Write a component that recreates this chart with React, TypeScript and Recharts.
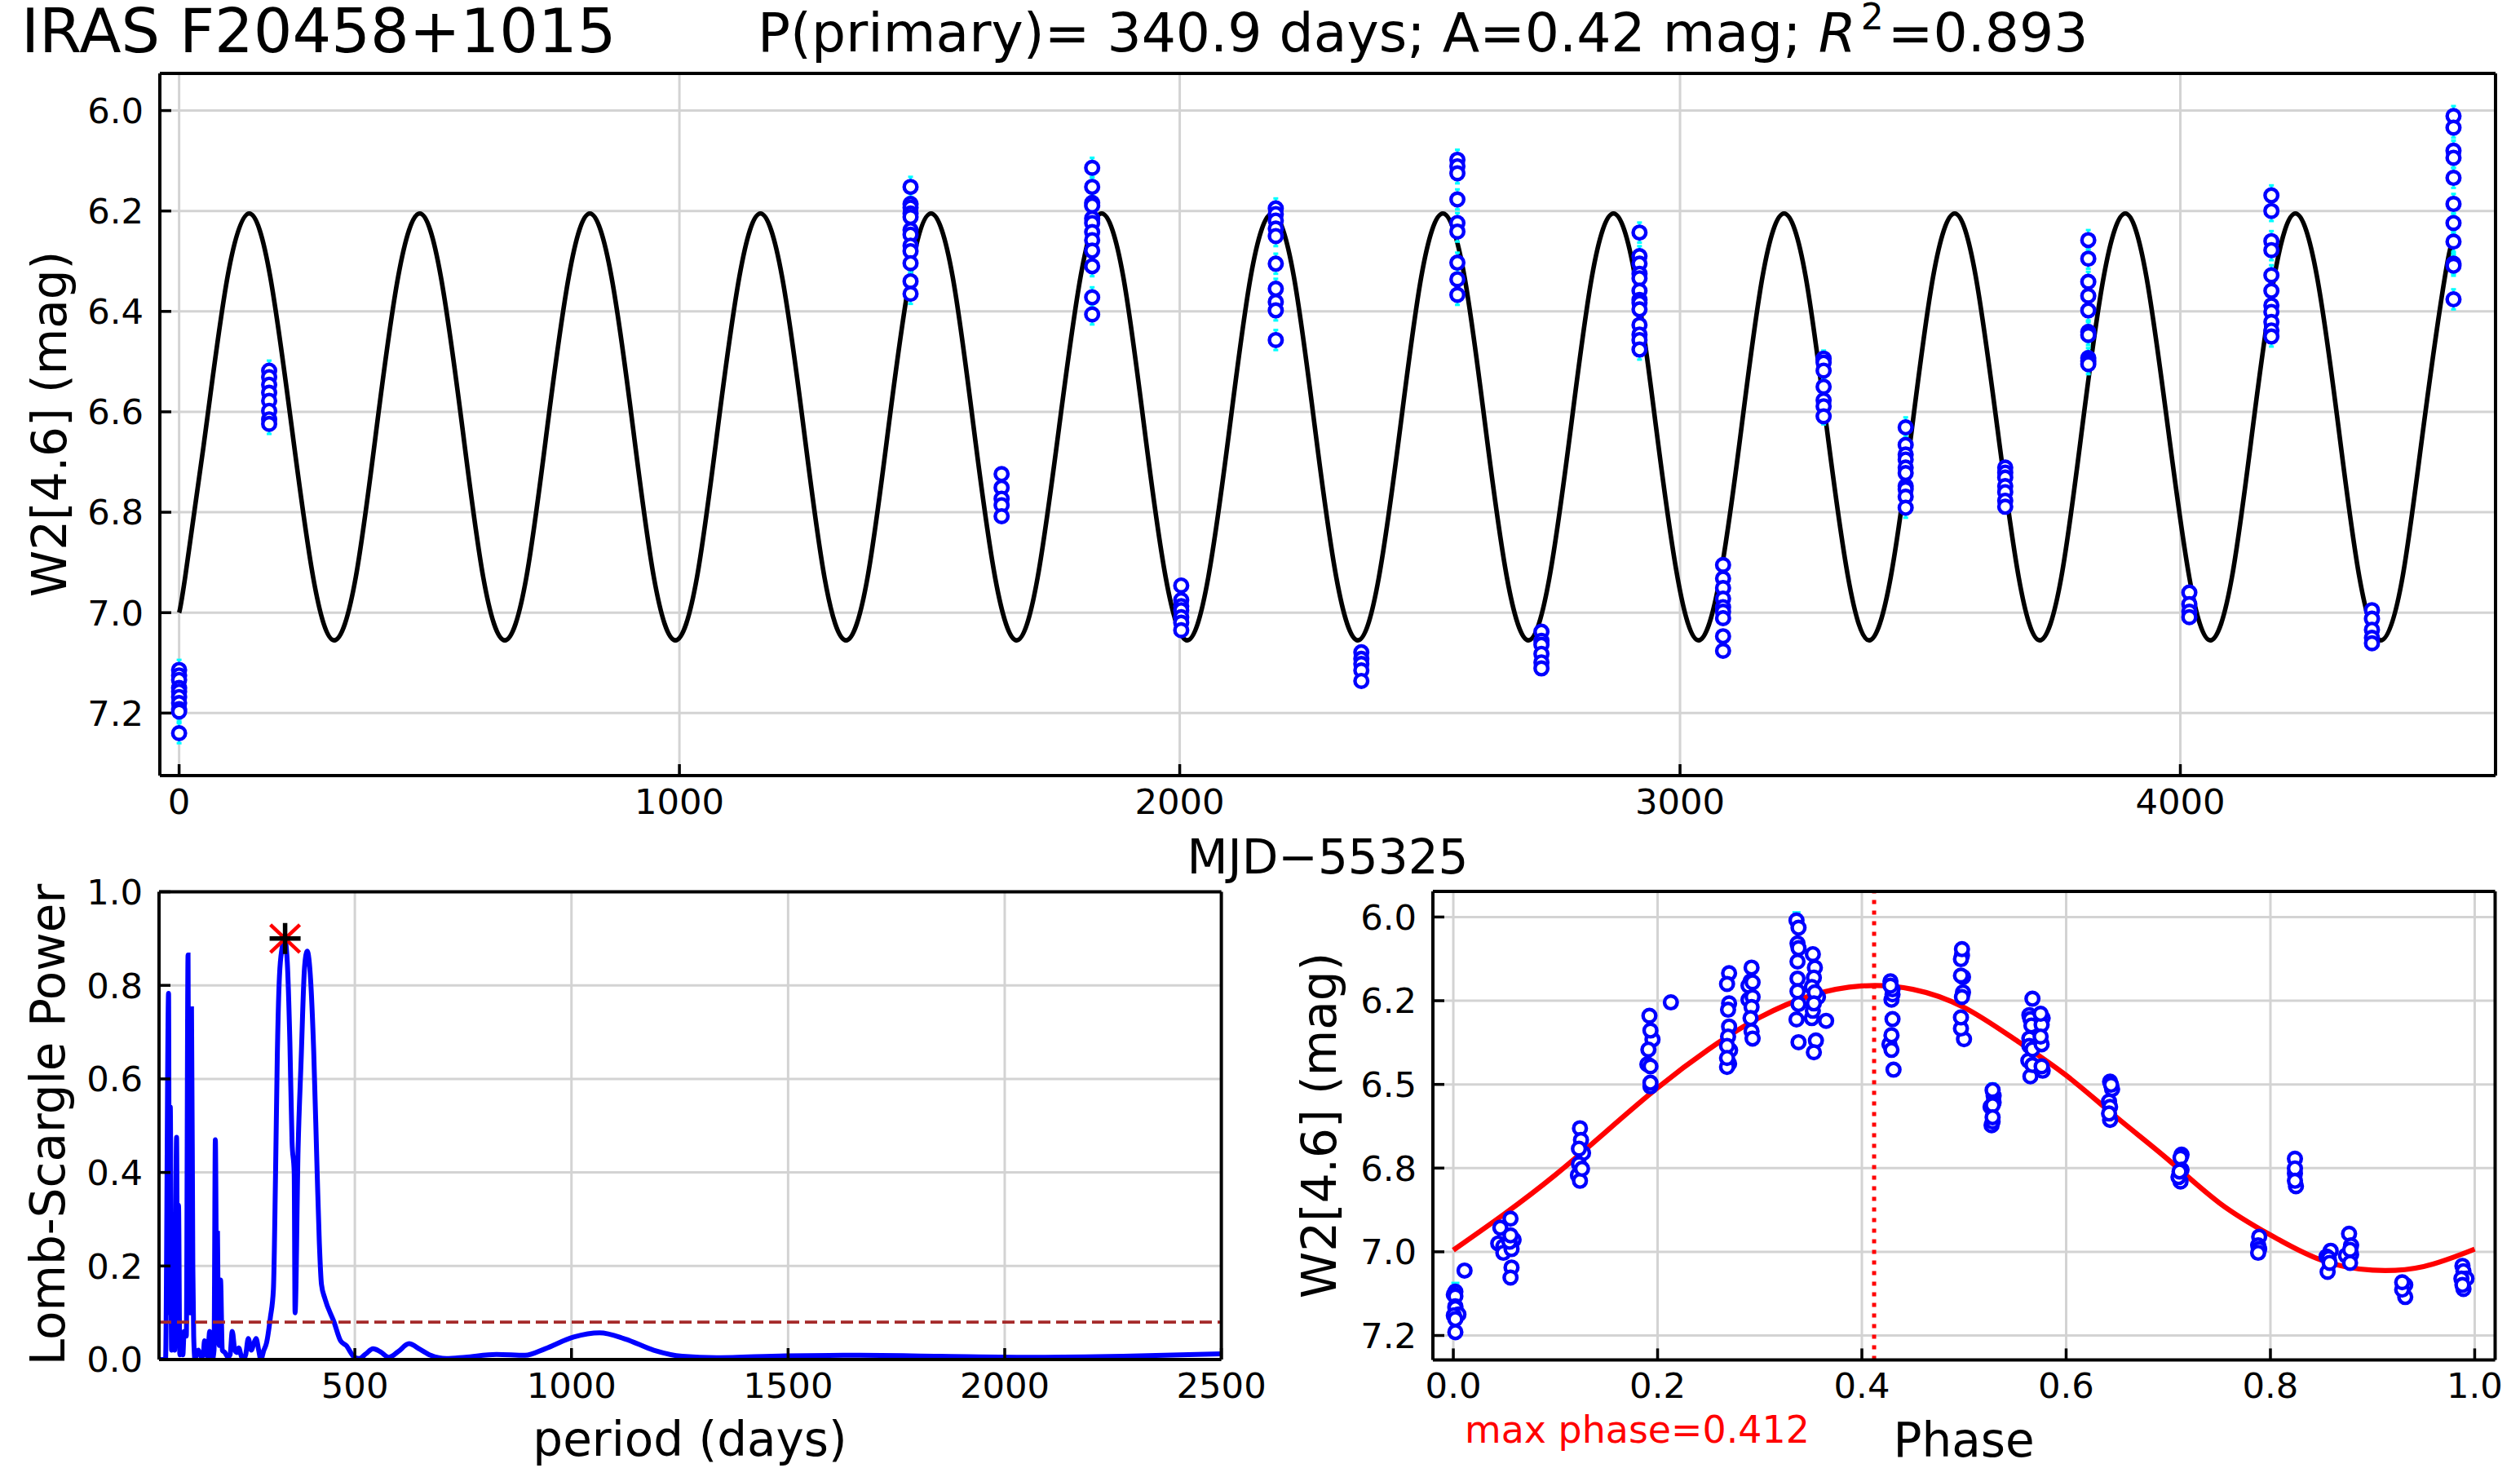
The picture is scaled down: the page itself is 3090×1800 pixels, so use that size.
import React from 'react';
import { ComposedChart, Line, Scatter, XAxis, YAxis, CartesianGrid, ErrorBar, ReferenceLine } from 'recharts';

const FONT = "'DejaVu Sans', sans-serif";
const W = 3090;
const H = 1800;
const GRID = '#d3d3d3';

// ---- top panel: light curve ----
const epochTimes = [0, 180, 1462, 1644, 1825, 2003, 2192, 2363, 2555, 2723, 2919, 3086, 3287, 3451, 3650, 3816, 4018, 4182, 4383, 4546];
const epochMags = [
  [7.114, 7.125, 7.134, 7.15, 7.157, 7.168, 7.18, 7.192, 7.197, 7.24],
  [6.518, 6.531, 6.546, 6.562, 6.578, 6.598, 6.615, 6.624],
  [6.152, 6.186, 6.193, 6.205, 6.212, 6.238, 6.247, 6.269, 6.28, 6.304, 6.34, 6.365],
  [6.724, 6.751, 6.773, 6.786, 6.808],
  [6.114, 6.152, 6.184, 6.189, 6.215, 6.224, 6.242, 6.258, 6.279, 6.31, 6.372, 6.406],
  [6.946, 6.975, 6.987, 6.995, 7.009, 7.02, 7.035],
  [6.195, 6.206, 6.219, 6.235, 6.25, 6.305, 6.355, 6.381, 6.398, 6.457],
  [7.079, 7.092, 7.102, 7.115, 7.136],
  [6.098, 6.111, 6.125, 6.177, 6.224, 6.241, 6.303, 6.336, 6.367],
  [7.038, 7.056, 7.064, 7.082, 7.099, 7.111],
  [6.243, 6.29, 6.305, 6.325, 6.334, 6.359, 6.377, 6.383, 6.396, 6.427, 6.446, 6.457, 6.476],
  [6.905, 6.932, 6.951, 6.972, 6.989, 6.998, 7.011, 7.047, 7.076],
  [6.494, 6.502, 6.518, 6.55, 6.577, 6.589, 6.609],
  [6.631, 6.666, 6.685, 6.695, 6.711, 6.722, 6.748, 6.754, 6.769, 6.791],
  [6.711, 6.721, 6.731, 6.748, 6.76, 6.777, 6.789],
  [6.258, 6.295, 6.341, 6.369, 6.398, 6.441, 6.447, 6.493, 6.499, 6.505],
  [6.96, 6.983, 6.998, 7.009],
  [6.169, 6.2, 6.26, 6.278, 6.328, 6.359, 6.388, 6.401, 6.421, 6.438, 6.45],
  [6.995, 7.012, 7.034, 7.05, 7.061],
  [6.011, 6.034, 6.08, 6.094, 6.134, 6.186, 6.224, 6.261, 6.305, 6.309, 6.376],
];
const epochErrors = [0.02, 0.02, 0.02, 0.012, 0.02, 0.012, 0.02, 0.008, 0.02, 0.008, 0.02, 0.012, 0.016, 0.02, 0.012, 0.02, 0.012, 0.02, 0.01, 0.02];

const curveTimes = [
  0, 12, 54, 97,
  140, 182, 225, 268, 310, 353, 395, 438,
  481, 523, 566, 608, 651, 694, 736, 779,
  821, 864, 907, 949, 992, 1035, 1077, 1120,
  1162, 1205, 1248, 1290, 1333, 1376, 1418, 1461,
  1503, 1546, 1588, 1631, 1674, 1716, 1759, 1802,
  1844, 1887, 1929, 1972, 2015, 2057, 2100, 2142,
  2185, 2228, 2270, 2313, 2356, 2398, 2441, 2483,
  2526, 2569, 2611, 2654, 2697, 2739, 2782, 2824,
  2867, 2910, 2952, 2995, 3037, 3080, 3123, 3165,
  3208, 3251, 3293, 3336, 3378, 3421, 3464, 3506,
  3549, 3591, 3634, 3677, 3719, 3762, 3804, 3847,
  3890, 3932, 3975, 4018, 4060, 4103, 4145, 4188,
  4230, 4273, 4316, 4358, 4401, 4444, 4486, 4529,
  4546,
];
const curveMags = [
  7.0, 6.93, 6.63, 6.33,
  6.205, 6.33, 6.63, 6.93, 7.055, 6.93, 6.63, 6.33,
  6.205, 6.33, 6.63, 6.93, 7.055, 6.93, 6.63, 6.33,
  6.205, 6.33, 6.63, 6.93, 7.055, 6.93, 6.63, 6.33,
  6.205, 6.33, 6.63, 6.93, 7.055, 6.93, 6.63, 6.33,
  6.205, 6.33, 6.63, 6.93, 7.055, 6.93, 6.63, 6.33,
  6.205, 6.33, 6.63, 6.93, 7.055, 6.93, 6.63, 6.33,
  6.205, 6.33, 6.63, 6.93, 7.055, 6.93, 6.63, 6.33,
  6.205, 6.33, 6.63, 6.93, 7.055, 6.93, 6.63, 6.33,
  6.205, 6.33, 6.63, 6.93, 7.055, 6.93, 6.63, 6.33,
  6.205, 6.33, 6.63, 6.93, 7.055, 6.93, 6.63, 6.33,
  6.205, 6.33, 6.63, 6.93, 7.055, 6.93, 6.63, 6.33,
  6.205, 6.33, 6.63, 6.93, 7.055, 6.93, 6.63, 6.33,
  6.205, 6.33, 6.63, 6.93, 7.055, 6.93, 6.63, 6.33,
  6.26,
];
const topXTicks = [0, 1000, 2000, 3000, 4000];
const topYTicks = [6.0, 6.2, 6.4, 6.6, 6.8, 7.0, 7.2];

// ---- bottom left: periodogram ----
const periodogramPoints = [
  [50, 0], [63, 0.0], [70, 0.783], [72, 0.1], [74, 0.54], [77, 0.02], [81, 0.16], [84, 0.02], [88.5, 0.475], [91, 0.03], [93, 0.33], [96, 0.01],
  [99, 0.05], [103, 0.01], [106, 0.06], [111, 0.05], [115, 0.865], [117, 0.3], [119, 0.1], [121, 0.3], [123, 0.75], [126, 0.2], [128, 0.05], [131, 0.0],
  [135, 0.015], [139, 0.02], [142, 0.012], [146, 0.005], [150, 0.01], [153, 0.04], [157, 0.03], [160, 0.005], [165, 0.06], [168, 0.04], [171, 0.0],
  [175, 0.02], [178, 0.47], [181, 0.15], [183, 0.27], [185, 0.05], [187, 0.03], [190, 0.17], [194, 0.02], [200, 0.015], [207, 0.005], [212, 0.01],
  [217, 0.06], [223, 0.02], [228, 0.015], [232, 0.025], [237, 0.01], [242, 0.0], [248, 0.01], [254, 0.045], [261, 0.02], [267, 0.035], [272, 0.045],
  [278, 0.02], [283, 0.0], [290, 0.02], [296, 0.035], [305, 0.09], [312, 0.15], [317, 0.4], [321, 0.65], [326, 0.82], [332, 0.88], [338, 0.9],
  [344, 0.85], [350, 0.68], [355, 0.466], [360, 0.4], [362, 0.1], [369, 0.45], [376, 0.64], [384, 0.84], [390, 0.873], [398, 0.81], [405, 0.66],
  [413, 0.4], [418, 0.25], [423, 0.16], [431, 0.13], [452, 0.08], [467, 0.04], [480, 0.03], [499, 0.005], [510, 0.002], [525, 0.012], [542, 0.023],
  [560, 0.016], [578, 0.005], [600, 0.017], [625, 0.034], [650, 0.022], [675, 0.009], [711, 0.002], [755, 0.005], [827, 0.011], [893, 0.009],
  [939, 0.023], [1005, 0.048], [1065, 0.057], [1124, 0.044], [1190, 0.02], [1256, 0.007], [1335, 0.004], [1494, 0.008], [1666, 0.009], [1850, 0.007],
  [2075, 0.005], [2273, 0.007], [2500, 0.012],
];
const significanceLevel = 0.08;
const bestPeriodPoint = [{ x: 339, y: 0.9 }];
const periodXTicks = [500, 1000, 1500, 2000, 2500];
const powerTicks = [0, 0.2, 0.4, 0.6, 0.8, 1.0];

// ---- bottom right: phase folded ----
const phasePoints = [
  [0.002, 7.119, 0.026], [0.0005, 7.128], [0.002, 7.133], [0.002, 7.163], [0.002, 7.168], [0.005, 7.187], [0.0005, 7.19], [0.002, 7.201], [0.002, 7.24], [0.011, 7.056],
  [0.046, 6.928], [0.056, 6.901], [0.044, 6.975], [0.049, 6.984], [0.049, 7.003], [0.059, 6.964], [0.057, 6.992], [0.055, 6.97], [0.056, 6.951], [0.057, 7.047], [0.056, 7.077],
  [0.124, 6.631], [0.125, 6.666], [0.127, 6.705], [0.123, 6.692], [0.123, 6.738], [0.122, 6.771], [0.124, 6.788], [0.126, 6.752],
  [0.192, 6.295], [0.195, 6.366], [0.193, 6.339], [0.191, 6.396], [0.19, 6.44], [0.193, 6.446], [0.193, 6.506], [0.193, 6.495], [0.213, 6.255],
  [0.27, 6.168], [0.268, 6.2], [0.27, 6.258], [0.269, 6.277], [0.27, 6.327], [0.269, 6.357], [0.271, 6.398], [0.268, 6.385], [0.27, 6.438], [0.268, 6.448], [0.268, 6.421],
  [0.292, 6.151], [0.291, 6.192], [0.289, 6.205], [0.293, 6.195], [0.289, 6.247], [0.293, 6.239], [0.292, 6.269], [0.291, 6.302], [0.292, 6.341], [0.293, 6.363],
  [0.336, 6.01, 0.024], [0.338, 6.032], [0.337, 6.079], [0.338, 6.093], [0.337, 6.133], [0.337, 6.184], [0.337, 6.222], [0.338, 6.26], [0.336, 6.306], [0.338, 6.374],
  [0.352, 6.111], [0.354, 6.151], [0.353, 6.181], [0.351, 6.209], [0.357, 6.239], [0.354, 6.225], [0.351, 6.302], [0.352, 6.28], [0.353, 6.258], [0.365, 6.31], [0.355, 6.369], [0.353, 6.404],
  [0.428, 6.192], [0.429, 6.247], [0.43, 6.231], [0.43, 6.216], [0.428, 6.205], [0.43, 6.305], [0.427, 6.38], [0.429, 6.353], [0.429, 6.397], [0.431, 6.456],
  [0.498, 6.115], [0.497, 6.126], [0.498, 6.096], [0.499, 6.179], [0.497, 6.175], [0.499, 6.225], [0.498, 6.239], [0.5, 6.365], [0.497, 6.333], [0.497, 6.3],
  [0.529, 6.534], [0.528, 6.517, 0.02], [0.529, 6.554], [0.526, 6.567], [0.528, 6.562], [0.527, 6.622], [0.528, 6.611], [0.528, 6.598],
  [0.567, 6.244], [0.564, 6.293], [0.565, 6.305], [0.566, 6.324], [0.564, 6.363], [0.563, 6.429], [0.565, 6.476], [0.567, 6.442], [0.564, 6.385], [0.567, 6.395],
  [0.577, 6.302], [0.576, 6.322], [0.575, 6.289], [0.576, 6.38], [0.575, 6.357], [0.577, 6.459], [0.576, 6.446],
  [0.643, 6.492], [0.645, 6.514], [0.644, 6.501], [0.643, 6.606], [0.642, 6.551], [0.643, 6.567], [0.642, 6.587],
  [0.713, 6.71], [0.712, 6.719], [0.712, 6.79], [0.71, 6.777], [0.713, 6.755], [0.711, 6.76],
  [0.789, 6.955], [0.788, 6.981], [0.789, 6.992], [0.788, 7.003],
  [0.824, 6.722], [0.825, 6.804], [0.824, 6.766], [0.824, 6.751], [0.824, 6.788],
  [0.859, 6.997], [0.855, 7.014], [0.856, 7.06], [0.857, 7.019], [0.858, 7.033],
  [0.877, 6.946], [0.879, 7.008], [0.874, 7.011], [0.879, 6.981], [0.878, 7.033], [0.878, 6.994],
  [0.932, 7.135], [0.932, 7.099], [0.929, 7.113], [0.929, 7.091],
  [0.988, 7.042], [0.989, 7.058], [0.992, 7.08], [0.987, 7.08], [0.989, 7.111], [0.988, 7.099],
];
const fitPhases = [0, 0.05, 0.1, 0.15, 0.2, 0.25, 0.3, 0.35, 0.4, 0.45, 0.5, 0.55, 0.6, 0.65, 0.7, 0.75, 0.8, 0.85, 0.9, 0.95, 1.0];
const fitMags = [6.995, 6.887, 6.77, 6.64, 6.51, 6.395, 6.3, 6.235, 6.206, 6.216, 6.27, 6.366, 6.473, 6.6, 6.725, 6.854, 6.95, 7.025, 7.055, 7.044, 6.992];
const maxPhase = 0.412;
const phaseXTicks = [0, 0.2, 0.4, 0.6, 0.8, 1.0];
const phaseYTicks = [6.0, 6.25, 6.5, 6.75, 7.0, 7.25];
const phaseYTickLabels = ['6.0', '6.2', '6.5', '6.8', '7.0', '7.2'];

// ---- series built from the arrays ----
const lightCurvePoints = epochTimes.flatMap((t, i) => epochMags[i].map((m) => ({ x: t, y: m, err: epochErrors[i] })));
const curveData = curveTimes.map((t, i) => ({ x: t, y: curveMags[i] }));
const periodData = periodogramPoints.map(([x, y]) => ({ x, y }));
const phaseData = phasePoints.map(([x, y, err]) => ({ x, y, err: err ?? 0 }));
const fitData = fitPhases.map((x, i) => ({ x, y: fitMags[i] }));

const TICK_FONT = { fontSize: 43.3, fontFamily: FONT, fill: '#000' };
const AXIS_LINE = { stroke: '#000', strokeWidth: 4 };
const TICK_LINE = { stroke: '#000', strokeWidth: 3.5 };

const Ring = (props: any) => (
  <circle cx={props.cx} cy={props.cy} r={7.8} fill="#fff" stroke="#0000ff" strokeWidth={4.4} />
);
const RedCross = (props: any) => (
  <g stroke="#ff0000" strokeWidth={4.5}>
    <line x1={props.cx - 18} y1={props.cy - 17} x2={props.cx + 18} y2={props.cy + 17} />
    <line x1={props.cx - 18} y1={props.cy + 17} x2={props.cx + 18} y2={props.cy - 17} />
  </g>
);
const BlackPlus = (props: any) => (
  <g stroke="#000" strokeWidth={5.5}>
    <line x1={props.cx - 19} y1={props.cy} x2={props.cx + 19} y2={props.cy} />
    <line x1={props.cx} y1={props.cy - 19} x2={props.cx} y2={props.cy + 19} />
  </g>
);

function frame(
  xDomain: number[],
  xTicks: number[],
  yDomain: number[],
  yTicks: number[],
  reversed: boolean,
  yFormat: (v: number) => string,
  xFormat: (v: number) => string = (v) => String(v),
) {
  return [
    <XAxis key="xb" dataKey="x" type="number" domain={xDomain} ticks={xTicks} allowDataOverflow interval={0} height={1}
      tickSize={-14} tickMargin={30} tick={TICK_FONT} tickLine={TICK_LINE} axisLine={AXIS_LINE} tickFormatter={xFormat} />,
    <XAxis key="xt" xAxisId="top" orientation="top" dataKey="x" type="number" domain={xDomain} ticks={xTicks} allowDataOverflow interval={0} height={1}
      tickSize={-14} tick={false} tickLine={TICK_LINE} axisLine={AXIS_LINE} />,
    <YAxis key="yl" dataKey="y" type="number" domain={yDomain} ticks={yTicks} reversed={reversed} allowDataOverflow interval={0} width={1}
      tickSize={-14} tickMargin={34} tick={TICK_FONT} tickLine={TICK_LINE} axisLine={AXIS_LINE} tickFormatter={yFormat} />,
    <YAxis key="yr" yAxisId="right" orientation="right" dataKey="y" type="number" domain={yDomain} ticks={yTicks} reversed={reversed} allowDataOverflow interval={0} width={1}
      tickSize={-14} tick={false} tickLine={TICK_LINE} axisLine={AXIS_LINE} />,
  ];
}

const Layer = ({ children }: { children: React.ReactNode }) => (
  <div style={{ position: 'absolute', left: 0, top: 0, width: W, height: H }}>{children}</div>
);

export default function App() {
  return (
    <div style={{ position: 'absolute', left: 0, top: 0, width: W, height: H, background: '#fff', overflow: 'hidden' }}>
      <Layer>
        <ComposedChart width={W} height={H} margin={{ top: 89, left: 195, right: 29, bottom: H - 951 - 1 }}>
          <CartesianGrid stroke={GRID} strokeWidth={3} />
          {frame([-38.5, 4630], topXTicks, [5.926, 7.3245], topYTicks, true, (v) => v.toFixed(1))}
          <Line data={curveData} dataKey="y" type="natural" stroke="#000" strokeWidth={5.6} dot={false} isAnimationActive={false} />
          <Scatter data={lightCurvePoints} dataKey="y" shape={Ring} isAnimationActive={false}>
            <ErrorBar dataKey="err" direction="y" stroke="#00ffff" strokeWidth={3} width={3} isAnimationActive={false} />
          </Scatter>
        </ComposedChart>
      </Layer>

      <Layer>
        <ComposedChart width={W} height={H} margin={{ top: 1092.5, left: 194, right: W - 1498.6, bottom: H - 1668 }}>
          <CartesianGrid stroke={GRID} strokeWidth={3} />
          {frame([48, 2500], periodXTicks, [0, 1], powerTicks, false, (v) => v.toFixed(1))}
          <Line data={periodData} dataKey="y" type="monotone" stroke="#0000ff" strokeWidth={6} dot={false} isAnimationActive={false} />
          <ReferenceLine y={significanceLevel} stroke="#a52a2a" strokeWidth={3.8} strokeDasharray="15 7" />
          <Scatter data={bestPeriodPoint} dataKey="y" shape={RedCross} isAnimationActive={false} />
          <Scatter data={bestPeriodPoint} dataKey="y" shape={BlackPlus} isAnimationActive={false} />
        </ComposedChart>
      </Layer>

      <Layer>
        <ComposedChart width={W} height={H} margin={{ top: 1092, left: 1756, right: W - 3060.5, bottom: H - 1668.4 }}>
          <CartesianGrid stroke={GRID} strokeWidth={3} />
          {frame([-0.02, 1.02], phaseXTicks, [5.9235, 7.3228], phaseYTicks, true, (v) => phaseYTickLabels[phaseYTicks.indexOf(v)] ?? '', (v) => v.toFixed(1))}
          <Line data={fitData} dataKey="y" type="natural" stroke="#ff0000" strokeWidth={6.3} dot={false} isAnimationActive={false} />
          <ReferenceLine x={maxPhase} stroke="#ff0000" strokeWidth={5} strokeDasharray="5 8" />
          <Scatter data={phaseData} dataKey="y" shape={Ring} isAnimationActive={false}>
            <ErrorBar dataKey="err" direction="y" stroke="#00ffff" strokeWidth={3} width={5} isAnimationActive={false} />
          </Scatter>
        </ComposedChart>
      </Layer>

      <svg width={W} height={H} style={{ position: 'absolute', left: 0, top: 0, pointerEvents: 'none' }} fontFamily={FONT} fill="#000">
        <text x={26} y={63.5} fontSize={75}>IRAS F20458+1015</text>
        <text x={929} y={62.5} fontSize={66.4}>
          <tspan>P(primary)= 340.9 days; A=0.42 mag; </tspan>
          <tspan fontStyle="italic">R</tspan>
          <tspan dx={6} dy={-27} fontSize={44}>2</tspan>
          <tspan dx={5} dy={27}>=0.893</tspan>
        </text>
        <text x={1628} y={1071} fontSize={58} textAnchor="middle">MJD−55325</text>
        <text transform="rotate(-90 81 520)" x={81} y={520} fontSize={58} textAnchor="middle">W2[4.6] (mag)</text>
        <text transform="rotate(-90 78.5 1379)" x={78.5} y={1379} fontSize={58} textAnchor="middle">Lomb-Scargle Power</text>
        <text transform="rotate(-90 1638 1380)" x={1638} y={1380} fontSize={58} textAnchor="middle">W2[4.6] (mag)</text>
        <text x={846} y={1785} fontSize={58} textAnchor="middle">period (days)</text>
        <text x={2408} y={1786} fontSize={58} textAnchor="middle">Phase</text>
        <text x={1796} y={1769} fontSize={45.9} fill="#ff0000">max phase=0.412</text>
      </svg>
    </div>
  );
}
